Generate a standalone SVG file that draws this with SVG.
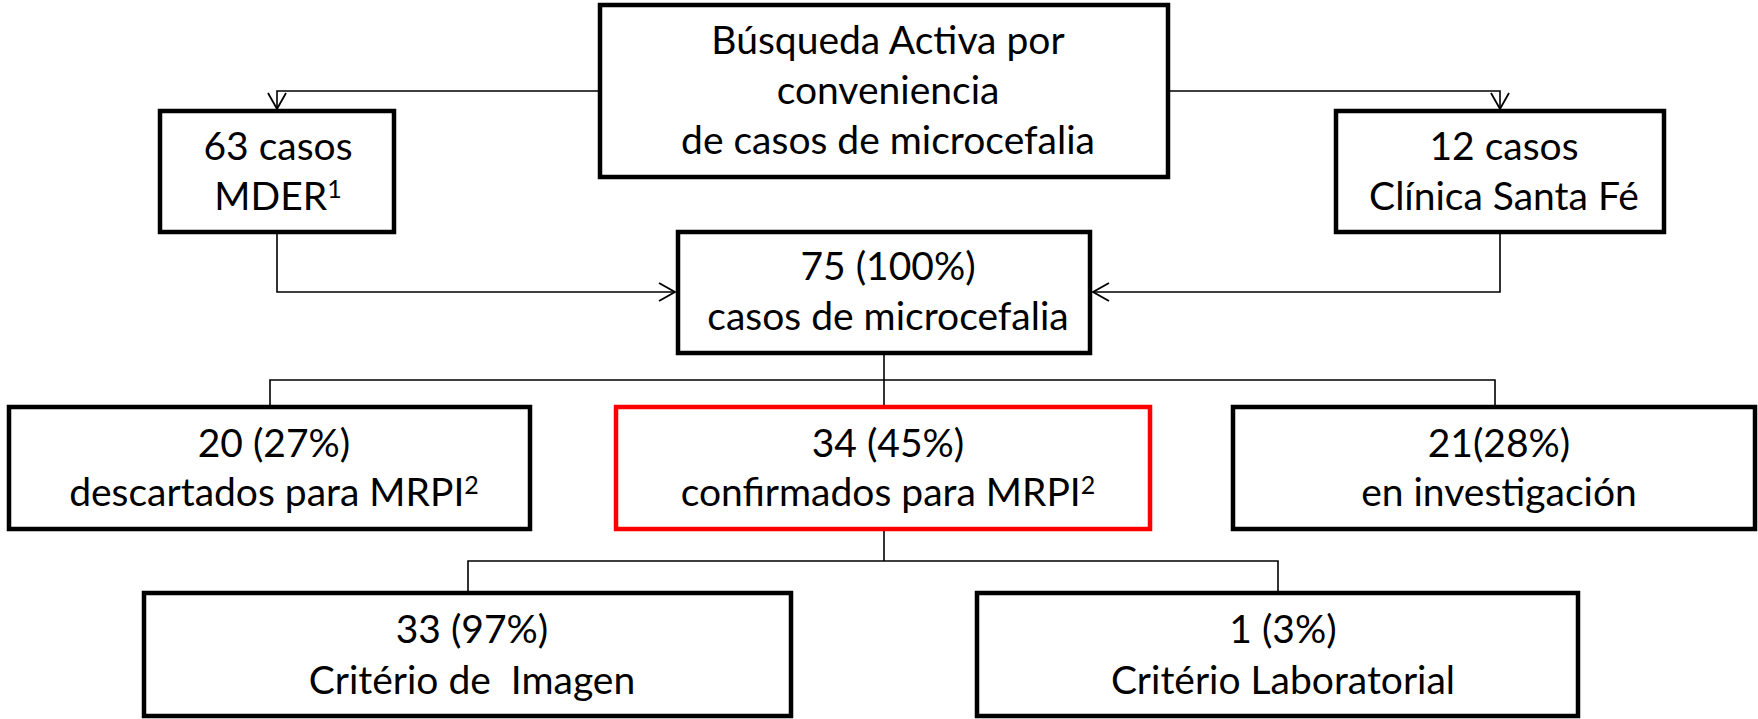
<svg xmlns="http://www.w3.org/2000/svg" width="1758" height="719" viewBox="0 0 1758 719">
  <defs>
    <style>
      .box { fill: #ffffff; stroke: #000000; stroke-width: 4.5; }
      .red { fill: #ffffff; stroke: #ff0000; stroke-width: 4.5; }
      .txt { font-family: Lato, "Liberation Sans", sans-serif; font-size: 39px; fill: #000000; text-anchor: middle; }
      .sup { font-size: 25px; }
      .conn { fill: none; stroke: #000000; stroke-width: 1.6; }
    </style>
    <marker id="arrow" markerUnits="userSpaceOnUse" markerWidth="24" markerHeight="24" viewBox="-20 -12 24 24" refX="0" refY="0" orient="auto">
      <path d="M-16,-9 L0,0 L-16,9" fill="none" stroke="#000000" stroke-width="1.8"/>
    </marker>
  </defs>

  <g id="connectors">
    <path class="conn" d="M600,91 H277 V109" marker-end="url(#arrow)"/>
    <path class="conn" d="M1168,91 H1500 V109" marker-end="url(#arrow)"/>
    <path class="conn" d="M277,234 V292 H675" marker-end="url(#arrow)"/>
    <path class="conn" d="M1500,234 V292 H1093" marker-end="url(#arrow)"/>
    <path class="conn" d="M884,355 V405"/>
    <path class="conn" d="M270,405 V380 H1495 V405"/>
    <path class="conn" d="M884,531 V561"/>
    <path class="conn" d="M468,592 V561 H1278 V592"/>
  </g>

  <g id="node-busqueda">
    <rect class="box" x="600" y="5" width="568" height="172"/>
    <text class="txt" x="888" y="54">Búsqueda Activa por</text>
    <text class="txt" x="888" y="104">conveniencia</text>
    <text class="txt" x="888" y="154">de casos de microcefalia</text>
  </g>

  <g id="node-mder">
    <rect class="box" x="160" y="111" width="234" height="121"/>
    <text class="txt" x="278" y="160">63 casos</text>
    <text class="txt" x="278" y="210">MDER<tspan class="sup" dy="-12">1</tspan></text>
  </g>

  <g id="node-santafe">
    <rect class="box" x="1336" y="111" width="328" height="121"/>
    <text class="txt" x="1504" y="160">12 casos</text>
    <text class="txt" x="1504" y="210">Clínica Santa Fé</text>
  </g>

  <g id="node-total">
    <rect class="box" x="678" y="232" width="412" height="121"/>
    <text class="txt" x="888" y="280">75 (100%)</text>
    <text class="txt" x="888" y="330">casos de microcefalia</text>
  </g>

  <g id="node-descartados">
    <rect class="box" x="9" y="407" width="521" height="122"/>
    <text class="txt" x="274" y="457">20 (27%)</text>
    <text class="txt" x="274" y="506">descartados para MRPI<tspan class="sup" dy="-12">2</tspan></text>
  </g>

  <g id="node-confirmados">
    <rect class="red" x="616" y="407" width="534" height="122"/>
    <text class="txt" x="888" y="457">34 (45%)</text>
    <text class="txt" x="888" y="506">confirmados para MRPI<tspan class="sup" dy="-12">2</tspan></text>
  </g>

  <g id="node-investigacion">
    <rect class="box" x="1233" y="407" width="522" height="122"/>
    <text class="txt" x="1499" y="457">21(28%)</text>
    <text class="txt" x="1499" y="506">en investigación</text>
  </g>

  <g id="node-imagen">
    <rect class="box" x="144" y="593" width="647" height="123"/>
    <text class="txt" x="472" y="643">33 (97%)</text>
    <text class="txt" x="472" y="694" xml:space="preserve">Critério de  Imagen</text>
  </g>

  <g id="node-laboratorial">
    <rect class="box" x="977" y="593" width="601" height="123"/>
    <text class="txt" x="1283" y="643">1 (3%)</text>
    <text class="txt" x="1283" y="694">Critério Laboratorial</text>
  </g>
</svg>
